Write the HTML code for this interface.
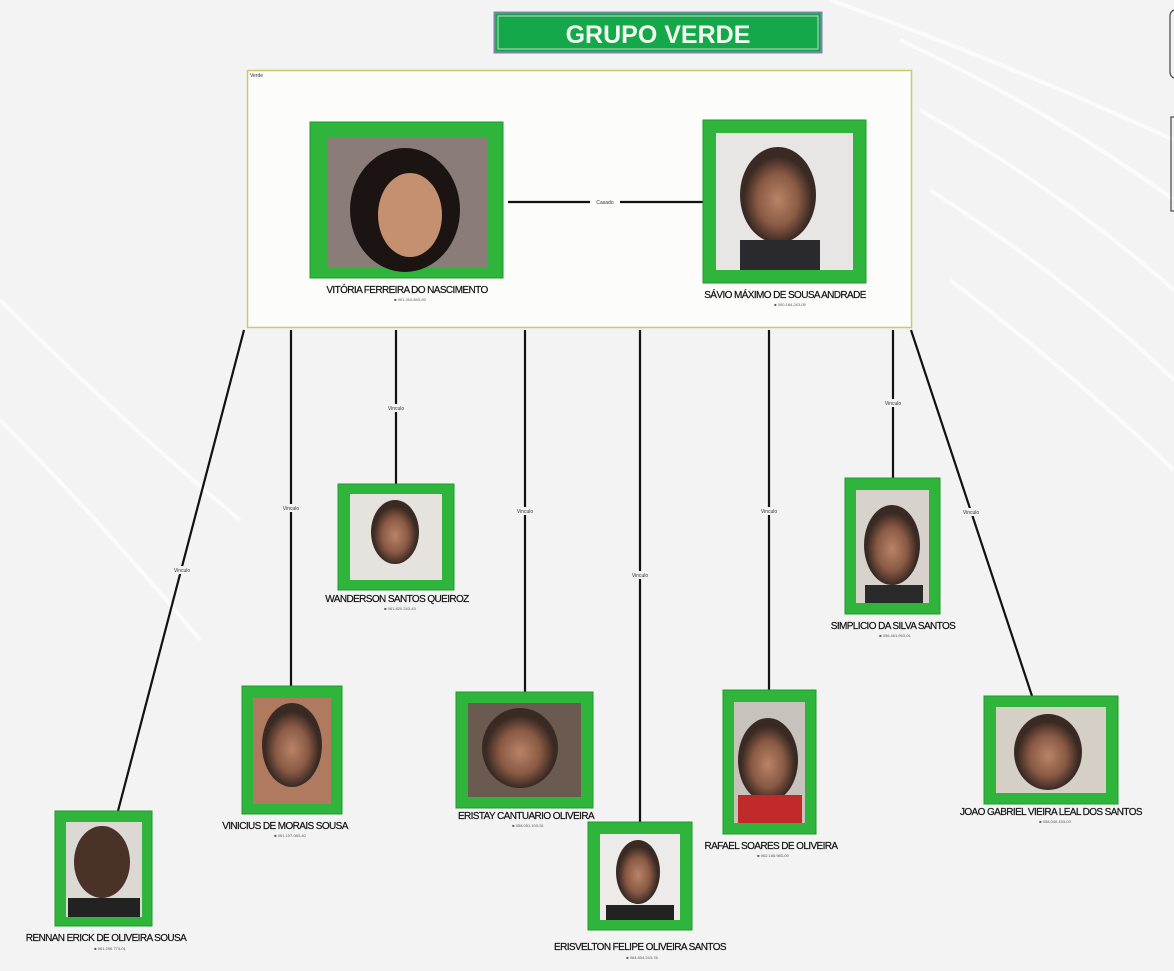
<!DOCTYPE html>
<html><head><meta charset="utf-8"><style>
html,body{margin:0;padding:0;width:1174px;height:971px;overflow:hidden;background:#f4f3f3;}
svg{display:block;font-family:"Liberation Sans",sans-serif;}
</style></head><body>
<svg width="1174" height="971" viewBox="0 0 1174 971" xmlns="http://www.w3.org/2000/svg">
<defs>
<radialGradient id="face" cx="50%" cy="55%" r="45%"><stop offset="0" stop-color="#b88468"/><stop offset="0.6" stop-color="#8a5a44"/><stop offset="1" stop-color="#3a2a24"/></radialGradient>
</defs>
<g stroke="#fdfdfd" stroke-width="4" fill="none" opacity="0.8">
<path d="M830 0 Q1000 60 1174 140"/><path d="M900 40 Q1050 110 1174 200"/><path d="M920 110 Q1060 190 1174 290"/><path d="M930 190 Q1070 280 1174 380"/><path d="M950 280 Q1080 380 1174 470"/>
<path d="M0 300 Q120 420 240 520"/><path d="M0 420 Q100 520 200 640"/>
</g>
<rect x="1170" y="10" width="10" height="68" rx="6" fill="none" stroke="#444" stroke-width="1.2"/>
<rect x="1171" y="117" width="10" height="94" fill="none" stroke="#444" stroke-width="1.2"/>
<rect x="494.5" y="12.5" width="327" height="40" fill="#14a84a" stroke="#7a86a8" stroke-width="2"/>
<rect x="498" y="16" width="320" height="33" fill="none" stroke="#c9d6c9" stroke-width="1"/>
<text x="658" y="43" text-anchor="middle" font-size="25" font-weight="bold" fill="#f2fbef">GRUPO VERDE</text>
<rect x="247.5" y="70.5" width="664" height="257" fill="#fcfcfb" stroke="#c8c870" stroke-width="1.5"/>
<text x="250" y="77" font-size="5" fill="#333">Verde</text>
<g stroke="#111" stroke-width="2.2" fill="none">
<line x1="508" y1="202" x2="703" y2="202"/>
<line x1="244" y1="330" x2="118" y2="811"/>
<line x1="291" y1="330" x2="291" y2="686"/>
<line x1="396" y1="330" x2="396" y2="484"/>
<line x1="525" y1="330" x2="525" y2="692"/>
<line x1="640" y1="330" x2="640" y2="822"/>
<line x1="769" y1="330" x2="769" y2="690"/>
<line x1="893" y1="330" x2="893" y2="478"/>
<line x1="911" y1="330" x2="1032" y2="696"/>
</g>
<g font-size="5" fill="#333" text-anchor="middle">
<rect x="590" y="198" width="30" height="8" fill="#fcfcfb"/><text x="605" y="204">Casado</text>
<rect x="170" y="566" width="24" height="8" fill="#f4f3f3"/><text x="182" y="572">Vinculo</text>
<rect x="279" y="504" width="24" height="8" fill="#f4f3f3"/><text x="291" y="510">Vinculo</text>
<rect x="384" y="404" width="24" height="8" fill="#f4f3f3"/><text x="396" y="410">Vinculo</text>
<rect x="513" y="507" width="24" height="8" fill="#f4f3f3"/><text x="525" y="513">Vinculo</text>
<rect x="628" y="571" width="24" height="8" fill="#f4f3f3"/><text x="640" y="577">Vinculo</text>
<rect x="757" y="507" width="24" height="8" fill="#f4f3f3"/><text x="769" y="513">Vinculo</text>
<rect x="881" y="399" width="24" height="8" fill="#f4f3f3"/><text x="893" y="405">Vinculo</text>
<rect x="959" y="508" width="24" height="8" fill="#f4f3f3"/><text x="971" y="514">Vinculo</text>
</g>
<g>
<rect x="310" y="122" width="193" height="156" fill="#2fb43c" stroke="#1f9a2c"/><rect x="327" y="137" width="161" height="131" fill="#8a7c78"/><ellipse cx="405" cy="210" rx="55" ry="62" fill="#1c1412"/><ellipse cx="410" cy="215" rx="32" ry="42" fill="#c49070"/>
<rect x="703" y="120" width="163" height="163" fill="#2fb43c" stroke="#1f9a2c"/><rect x="716" y="133" width="137" height="137" fill="#e8e6e4"/><ellipse cx="778" cy="195" rx="38" ry="48" fill="url(#face)"/><rect x="740" y="240" width="80" height="30" fill="#2a2a2e"/>
<rect x="338" y="484" width="116" height="106" fill="#2fb43c" stroke="#1f9a2c"/><rect x="350" y="494" width="92" height="86" fill="#e6e2de"/><ellipse cx="395" cy="532" rx="24" ry="32" fill="url(#face)"/>
<rect x="845" y="478" width="95" height="136" fill="#2fb43c" stroke="#1f9a2c"/><rect x="856" y="490" width="73" height="113" fill="#d8d2cc"/><ellipse cx="892" cy="545" rx="28" ry="40" fill="url(#face)"/><rect x="865" y="585" width="58" height="18" fill="#2a2a2a"/>
<rect x="242" y="686" width="100" height="128" fill="#2fb43c" stroke="#1f9a2c"/><rect x="253" y="698" width="78" height="106" fill="#b07a60"/><ellipse cx="292" cy="745" rx="30" ry="42" fill="url(#face)"/>
<rect x="456" y="692" width="137" height="116" fill="#2fb43c" stroke="#1f9a2c"/><rect x="468" y="703" width="113" height="94" fill="#6a5a50"/><ellipse cx="520" cy="748" rx="38" ry="40" fill="url(#face)"/>
<rect x="723" y="690" width="93" height="144" fill="#2fb43c" stroke="#1f9a2c"/><rect x="734" y="702" width="71" height="121" fill="#c8c2bc"/><ellipse cx="768" cy="760" rx="30" ry="42" fill="url(#face)"/><rect x="738" y="795" width="64" height="28" fill="#c02a2a"/>
<rect x="984" y="696" width="134" height="108" fill="#2fb43c" stroke="#1f9a2c"/><rect x="996" y="707" width="110" height="86" fill="#d6cfc6"/><ellipse cx="1048" cy="752" rx="34" ry="38" fill="url(#face)"/>
<rect x="55" y="811" width="97" height="115" fill="#2fb43c" stroke="#1f9a2c"/><rect x="66" y="822" width="76" height="95" fill="#dcd8d4"/><ellipse cx="102" cy="862" rx="28" ry="36" fill="#4a3228"/><rect x="68" y="898" width="72" height="19" fill="#222"/>
<rect x="588" y="822" width="104" height="108" fill="#2fb43c" stroke="#1f9a2c"/><rect x="600" y="834" width="80" height="86" fill="#ecebea"/><ellipse cx="638" cy="872" rx="22" ry="32" fill="url(#face)"/><rect x="606" y="905" width="68" height="15" fill="#222"/>
</g>
<g font-size="10" fill="#111" text-anchor="middle" letter-spacing="-0.6" stroke="#111" stroke-width="0.2">
<text x="407" y="293">VITÓRIA FERREIRA DO NASCIMENTO</text>
<text x="785" y="298">SÁVIO MÁXIMO DE SOUSA ANDRADE</text>
<text x="397" y="602">WANDERSON SANTOS QUEIROZ</text>
<text x="893" y="629">SIMPLICIO DA SILVA SANTOS</text>
<text x="285" y="829">VINICIUS DE MORAIS SOUSA</text>
<text x="526" y="819">ERISTAY CANTUARIO OLIVEIRA</text>
<text x="771" y="849">RAFAEL SOARES DE OLIVEIRA</text>
<text x="1051" y="815">JOAO GABRIEL VIEIRA LEAL DOS SANTOS</text>
<text x="106" y="941">RENNAN ERICK DE OLIVEIRA SOUSA</text>
<text x="640" y="950">ERISVELTON FELIPE OLIVEIRA SANTOS</text>
</g>
<g font-size="4" fill="#555" text-anchor="middle">
<text x="410" y="301">■ 001.310.843-93</text><text x="790" y="306">■ 000.184.243-05</text>
<text x="400" y="610">■ 061.820.243-43</text><text x="895" y="637">■ 056.461.953-01</text>
<text x="290" y="837">■ 061.107.083-40</text><text x="528" y="827">■ 058.051.103-51</text>
<text x="773" y="857">■ 062.165.983-09</text><text x="1055" y="823">■ 058.040.433-03</text>
<text x="110" y="950">■ 061.296.773-01</text><text x="642" y="959">■ 064.804.243-78</text>
</g>
</svg>
</body></html>
